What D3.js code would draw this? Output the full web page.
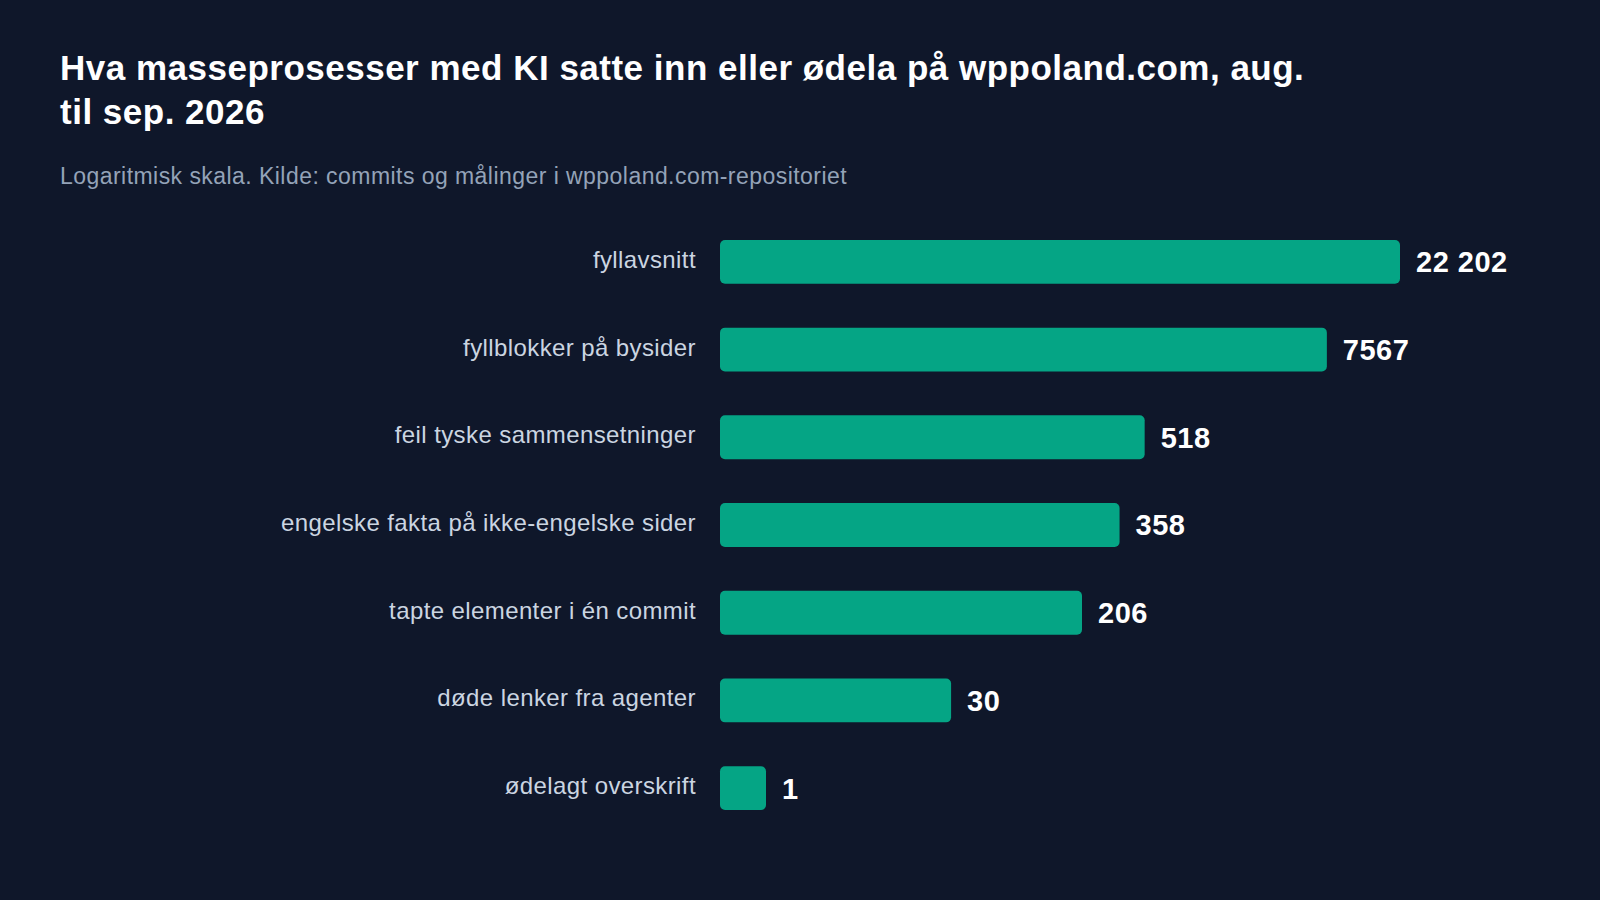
<!DOCTYPE html>
<html>
<head>
<meta charset="utf-8">
<script src="https://cdn.jsdelivr.net/npm/d3@7"></script>
<style>
  html, body { margin: 0; padding: 0; background: #0f172a; }
  svg { display: block; }
  text { font-family: "Liberation Sans", Arial, Helvetica, sans-serif; }
</style>
</head>
<body>
<div id="chart"></div>
<script>
// Chart data
var categories = [
    'fyllavsnitt',
    'fyllblokker på bysider',
    'feil tyske sammensetninger',
    'engelske fakta på ikke-engelske sider',
    'tapte elementer i én commit',
    'døde lenker fra agenter',
    'ødelagt overskrift'
];
var values = [22202, 7567, 518, 358, 206, 30, 1];
var valueLabels = ['22 202', '7567', '518', '358', '206', '30', '1'];
var titleLines = ['Hva masseprosesser med KI satte inn eller ødela på wppoland.com, aug.', 'til sep. 2026'];
var subtitle = 'Logaritmisk skala. Kilde: commits og målinger i wppoland.com-repositoriet';

var width = 1600, height = 900;
var barLeft = 720;
var minBarWidth = 46;

var svg = d3.select('#chart').append('svg')
    .attr('width', width)
    .attr('height', height)
    .attr('viewBox', '0 0 ' + width + ' ' + height);

svg.append('rect')
    .attr('width', width)
    .attr('height', height)
    .attr('fill', '#0f172a');

// Title and subtitle
svg.append('text')
    .attr('x', 60)
    .attr('y', 80)
    .attr('fill', '#ffffff')
    .attr('font-size', 35)
    .attr('font-weight', 'bold')
    .attr('letter-spacing', 0.5)
    .selectAll('tspan')
    .data(titleLines)
    .enter().append('tspan')
    .attr('x', 60)
    .attr('dy', function(d, i) { return i === 0 ? 0 : 44; })
    .text(function(d) { return d; });

svg.append('text')
    .attr('x', 60)
    .attr('y', 184)
    .attr('fill', '#94a3b8')
    .attr('font-size', 23)
    .attr('letter-spacing', 0.45)
    .text(subtitle);

// Scales
var x = d3.scaleLog()
    .domain([1, 22202])
    .range([0, 680]);

var y = d3.scaleBand()
    .domain(categories)
    .range([218, 832])
    .paddingInner(0.5)
    .paddingOuter(0.25);

var rows = categories.map(function(c, i) {
    return { cat: c, value: values[i], label: valueLabels[i] };
});

function barWidth(d) {
    return Math.max(minBarWidth, x(d.value));
}

var g = svg.append('g');

// Bars
g.selectAll('rect.bar')
    .data(rows)
    .enter().append('rect')
    .attr('class', 'bar')
    .attr('x', barLeft)
    .attr('y', function(d) { return y(d.cat); })
    .attr('width', barWidth)
    .attr('height', y.bandwidth())
    .attr('rx', 5)
    .attr('fill', '#05a585');

// Category labels
g.selectAll('text.cat')
    .data(rows)
    .enter().append('text')
    .attr('class', 'cat')
    .attr('x', barLeft - 24)
    .attr('y', function(d) { return y(d.cat) + y.bandwidth() / 2; })
    .attr('dy', '0.25em')
    .attr('text-anchor', 'end')
    .attr('fill', '#cbd5e1')
    .attr('font-size', 24)
    .attr('letter-spacing', 0.4)
    .text(function(d) { return d.cat; });

// Value labels
g.selectAll('text.val')
    .data(rows)
    .enter().append('text')
    .attr('class', 'val')
    .attr('x', function(d) { return barLeft + barWidth(d) + 16; })
    .attr('y', function(d) { return y(d.cat) + y.bandwidth() / 2; })
    .attr('dy', '0.36em')
    .attr('fill', '#ffffff')
    .attr('font-size', 29)
    .attr('font-weight', 'bold')
    .attr('letter-spacing', 0.5)
    .text(function(d) { return d.label; });
</script>
</body>
</html>
